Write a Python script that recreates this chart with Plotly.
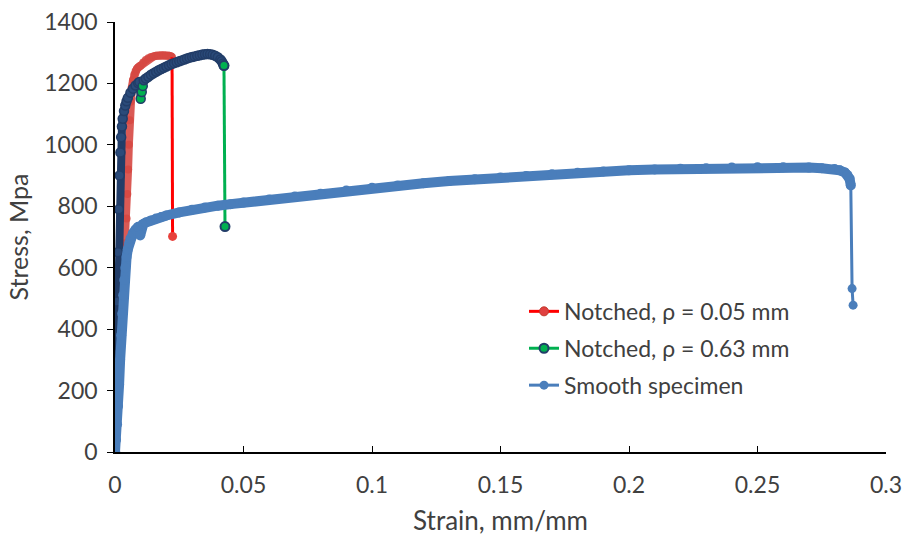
import plotly.graph_objects as go

# ---------------- data ----------------
notch005_strain = [0, 0.0005, 0.001, 0.0015, 0.002, 0.0025, 0.003, 0.0035, 0.004, 0.0045,
                   0.0048, 0.0051, 0.0054, 0.0057, 0.006, 0.0065, 0.007, 0.0075, 0.008, 0.0085,
                   0.009, 0.0095, 0.010, 0.011, 0.012, 0.013, 0.014, 0.015, 0.016, 0.017,
                   0.018, 0.019, 0.020, 0.021, 0.0218, 0.0222, 0.0224]
notch005_stress = [0, 80, 160, 240, 330, 420, 510, 600, 680, 760,
                   840, 920, 1000, 1080, 1140, 1185, 1210, 1228, 1240, 1247,
                   1252, 1255, 1258, 1268, 1276, 1282, 1286, 1288, 1290, 1291,
                   1292, 1292, 1291, 1290, 1288, 1285, 702]

notch063_strain = [0, 0.0003, 0.0006, 0.0009, 0.0012, 0.0015, 0.0018, 0.0021, 0.0024, 0.0027,
                   0.003, 0.0035, 0.004, 0.0045, 0.005, 0.006, 0.007, 0.008, 0.009, 0.0095,
                   0.0100, 0.0104, 0.0108, 0.0112, 0.012, 0.013, 0.014, 0.015, 0.016, 0.017,
                   0.018, 0.019, 0.020, 0.021, 0.022, 0.023, 0.024, 0.025, 0.026, 0.027,
                   0.028, 0.029, 0.030, 0.031, 0.032, 0.033, 0.034, 0.035, 0.036, 0.037,
                   0.038, 0.039, 0.040, 0.041, 0.0415, 0.042, 0.0424, 0.0428]
notch063_stress = [0, 150, 320, 490, 650, 790, 900, 975, 1025, 1060,
                   1085, 1110, 1128, 1142, 1153, 1170, 1183, 1193, 1201, 1205,
                   1150, 1172, 1192, 1210, 1216, 1222, 1228, 1233, 1238, 1243,
                   1247, 1251, 1255, 1259, 1263, 1266, 1269, 1272, 1275, 1278,
                   1281, 1284, 1286, 1288, 1290, 1292, 1294, 1295, 1296, 1295,
                   1293, 1290, 1285, 1278, 1272, 1265, 1258, 734]

smooth_strain = [0, 0.0004, 0.0008, 0.0012, 0.0016, 0.002, 0.0024, 0.0028, 0.0032, 0.0036,
                 0.004, 0.0045, 0.005, 0.0055, 0.006, 0.007, 0.008, 0.009, 0.0098, 0.0104,
                 0.011, 0.012, 0.014, 0.016, 0.018, 0.02, 0.025, 0.03, 0.035, 0.04,
                 0.045, 0.05, 0.06, 0.07, 0.08, 0.09, 0.10, 0.11, 0.12, 0.13,
                 0.14, 0.15, 0.16, 0.17, 0.18, 0.19, 0.20, 0.21, 0.22, 0.23,
                 0.24, 0.25, 0.26, 0.27, 0.275, 0.28, 0.282, 0.284, 0.285, 0.2858,
                 0.2863, 0.2868, 0.2872]
smooth_stress = [0, 40, 90, 150, 220, 300, 380, 450, 510, 560,
                 600, 635, 660, 680, 695, 712, 724, 733, 705, 738,
                 742, 747, 754, 760, 765, 770, 780, 789, 796, 802,
                 807, 812, 822, 832, 841, 851, 860, 868, 875, 882,
                 888, 894, 899, 904, 909, 913, 917, 920, 922, 924,
                 926, 927, 927, 926, 924, 921, 917, 910, 902, 890,
                 868, 532, 478]

series_names = ["Notched, ρ = 0.05 mm", "Notched, ρ = 0.63 mm", "Smooth specimen"]

x_ticks = [0, 0.05, 0.1, 0.15, 0.2, 0.25, 0.3]
x_tick_labels = ["0", "0.05", "0.1", "0.15", "0.2", "0.25", "0.3"]
y_ticks = [0, 200, 400, 600, 800, 1000, 1200, 1400]

# ---------------- styling ----------------
FONT = "Lato"
TXT = "#404040"
RED_BAND = "rgba(214,72,66,0.9)"
RED = "#FF0000"
NAVY = "#223D68"
NAVY_FILL = "#2B4B7A"
GREEN = "#00B050"
BLUE = "#4A7EBB"

fig = go.Figure()

# Notched 0.05 mm: plastic band + fracture drop
fig.add_trace(go.Scatter(
    x=notch005_strain[:-1], y=notch005_stress[:-1], mode="lines+markers",
    line=dict(color=RED_BAND, width=8), marker=dict(color=RED_BAND, size=8),
    showlegend=False, hoverinfo="skip"))
fig.add_trace(go.Scatter(
    x=notch005_strain[-2:], y=notch005_stress[-2:], mode="lines+markers",
    line=dict(color=RED, width=3),
    marker=dict(color=["rgba(0,0,0,0)", "#E8413C"], size=9),
    showlegend=False, hoverinfo="skip"))

# Notched 0.63 mm (the three load-dip points show their green fill)
band_fill = [GREEN if 0.0099 < s < 0.0109 else NAVY_FILL for s in notch063_strain[:-1]]
band_fill[-1] = GREEN
fig.add_trace(go.Scatter(
    x=notch063_strain[:-1], y=notch063_stress[:-1], mode="lines+markers",
    line=dict(color=NAVY, width=8),
    marker=dict(color=band_fill, size=9, line=dict(color=NAVY, width=1.5)),
    showlegend=False, hoverinfo="skip"))
fig.add_trace(go.Scatter(
    x=notch063_strain[-2:], y=notch063_stress[-2:], mode="lines+markers",
    line=dict(color=GREEN, width=3),
    marker=dict(color=GREEN, size=9, line=dict(color=NAVY, width=2)),
    showlegend=False, hoverinfo="skip"))

# Smooth specimen
fig.add_trace(go.Scatter(
    x=smooth_strain[:-2], y=smooth_stress[:-2], mode="lines+markers",
    line=dict(color=BLUE, width=10), marker=dict(color=BLUE, size=10),
    showlegend=False, hoverinfo="skip"))
fig.add_trace(go.Scatter(
    x=smooth_strain[-3:], y=smooth_stress[-3:], mode="lines+markers",
    line=dict(color=BLUE, width=3), marker=dict(color=BLUE, size=9),
    showlegend=False, hoverinfo="skip"))

# legend entries
legend_styles = [
    dict(line=dict(color=RED, width=3), marker=dict(color="#E04040", size=9, line=dict(color="#C0392B", width=1))),
    dict(line=dict(color=GREEN, width=3), marker=dict(color=GREEN, size=9, line=dict(color=NAVY, width=2))),
    dict(line=dict(color=BLUE, width=3), marker=dict(color=BLUE, size=9)),
]
for i, (name, st) in enumerate(zip(series_names, legend_styles)):
    fig.add_trace(go.Scatter(x=[None], y=[None], mode="lines+markers", name=name,
                             legendgroup=f"g{i}", showlegend=True, **st))

axis_common = dict(showgrid=False, zeroline=False, showline=True, linecolor="black",
                   linewidth=1.5, ticks="outside", tickcolor="black", ticklen=6,
                   automargin=False, ticklabeloverflow="allow",
                   tickfont=dict(family=FONT, size=23, color=TXT))

fig.update_layout(
    width=904, height=539,
    margin=dict(l=115, r=18, t=22, b=87),
    paper_bgcolor="white", plot_bgcolor="white",
    font=dict(family=FONT, size=23, color=TXT),
    xaxis=dict(range=[0, 0.3], tickvals=x_ticks, ticktext=x_tick_labels,
               title=dict(text="Strain, mm/mm", font=dict(family=FONT, size=26, color=TXT), standoff=14),
               ticklabelstandoff=12, **{**axis_common, "ticks": "inside"}),
    yaxis=dict(range=[0, 1400], tickvals=y_ticks,
               title=dict(text="Stress, Mpa", font=dict(family=FONT, size=25, color=TXT), standoff=9),
               ticklabelstandoff=5, **axis_common),
    legend=dict(x=0.5305, y=0.377, xanchor="left", yanchor="top",
                bgcolor="rgba(0,0,0,0)", tracegroupgap=4,
                font=dict(family=FONT, size=23, color=TXT)),
    showlegend=True,
)

# remove the default 8 px page margin so the figure fills the window exactly
fig.write_html("out.html", config={"displayModeBar": False},
               post_script="document.body.style.margin='0';document.body.style.overflow='hidden';")
